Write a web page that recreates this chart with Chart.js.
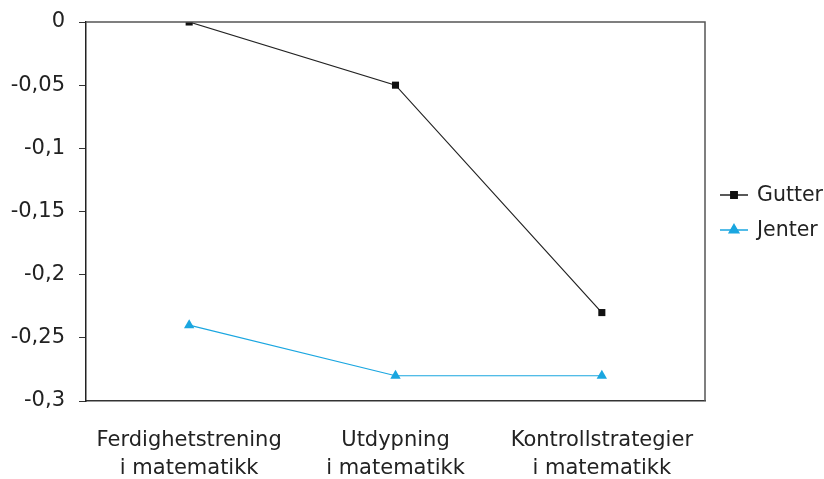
<!DOCTYPE html>
<html>
<head>
<meta charset="utf-8">
<script src="https://cdn.jsdelivr.net/npm/chart.js@4/dist/chart.umd.min.js"></script>
<style>
  html, body { margin: 0; padding: 0; background: #fff; }
  #wrap { width: 824px; height: 479px; }
</style>
</head>
<body>
<div id="wrap"><canvas id="c" width="824" height="479"></canvas></div>
<script>
// Categories (two-line labels) and series values
const categories = [
  ['Ferdighetstrening', 'i matematikk'],
  ['Utdypning', 'i matematikk'],
  ['Kontrollstrategier', 'i matematikk']
];
const gutter = [0, -0.05, -0.23];
const jenter = [-0.24, -0.28, -0.28];
const yTicks = [0, -0.05, -0.1, -0.15, -0.2, -0.25, -0.3];

const FONT = '"DejaVu Sans", "Liberation Sans", sans-serif';
const TEXT = '#222';

// Draws the box around the plot area
const frame = {
  id: 'frame',
  afterDatasetsDraw(chart) {
    const { ctx, chartArea: a } = chart;
    ctx.save();
    ctx.lineWidth = 1.5;
    ctx.strokeStyle = '#555';
    ctx.beginPath();
    ctx.moveTo(a.left, a.top);
    ctx.lineTo(a.right, a.top);
    ctx.lineTo(a.right, a.bottom);
    ctx.stroke();
    ctx.restore();
  }
};

// Legend to the right of the plot: short line with the series marker
const sideLegend = {
  id: 'sideLegend',
  afterDraw(chart) {
    const { ctx, chartArea: a } = chart;
    const x0 = a.right + 15;
    const mid = (a.top + a.bottom) / 2 + 1;
    const gap = 35;
    ctx.save();
    ctx.font = '20.5px ' + FONT;
    ctx.textBaseline = 'middle';
    chart.data.datasets.forEach((ds, i) => {
      const y = mid - gap / 2 + i * gap;
      ctx.strokeStyle = ds.borderColor;
      ctx.lineWidth = 1.5;
      ctx.beginPath();
      ctx.moveTo(x0, y);
      ctx.lineTo(x0 + 28, y);
      ctx.stroke();
      ctx.fillStyle = ds.pointBackgroundColor;
      ctx.strokeStyle = ds.pointBackgroundColor;
      Chart.helpers.drawPoint(ctx, {
        pointStyle: ds.pointStyle, radius: ds.pointRadius - 0.5, rotation: 0, borderWidth: 1
      }, x0 + 14, y);
      ctx.fillStyle = TEXT;
      ctx.fillText(ds.label, x0 + 37, y + 1);
    });
    ctx.restore();
  }
};

new Chart(document.getElementById('c'), {
  type: 'line',
  data: {
    labels: categories,
    datasets: [
      {
        label: 'Gutter',
        data: gutter,
        borderColor: '#222',
        borderWidth: 1.2,
        pointStyle: 'rect',
        pointRadius: 5,
        pointBackgroundColor: '#111',
        pointBorderColor: '#111',
        pointBorderWidth: 0,
        tension: 0
      },
      {
        label: 'Jenter',
        data: jenter,
        borderColor: '#1aa6e0',
        borderWidth: 1.2,
        pointStyle: 'triangle',
        pointRadius: 6,
        pointBackgroundColor: '#1aa6e0',
        pointBorderColor: '#1aa6e0',
        pointBorderWidth: 0,
        tension: 0
      }
    ]
  },
  options: {
    responsive: false,
    animation: false,
    layout: { padding: { left: 0, right: 119, top: 22, bottom: 0 } },
    plugins: {
      legend: { display: false },
      tooltip: { enabled: false }
    },
    scales: {
      x: {
        offset: true,
        afterFit(scale) {
          scale.height = 78;
          scale.paddingLeft = 0;
          scale.paddingRight = 0;
        },
        grid: { display: false, drawTicks: false },
        border: { display: true, color: '#333', width: 1.5 },
        ticks: {
          color: TEXT,
          font: { family: FONT, size: 21, lineHeight: 1.33 },
          padding: 26,
          maxRotation: 0,
          autoSkip: false
        }
      },
      y: {
        min: -0.3,
        max: 0,
        afterFit(scale) {
          scale.width = 86;
          scale.paddingTop = 0;
          scale.paddingBottom = 0;
        },
        afterBuildTicks(scale) { scale.ticks = yTicks.map(v => ({ value: v })); },
        grid: { display: true, drawOnChartArea: false, drawTicks: true, tickLength: 7, color: '#333' },
        border: { display: true, color: '#222', width: 1.5 },
        ticks: {
          color: TEXT,
          font: { family: FONT, size: 21 },
          padding: 14,
          callback: v => String(v).replace('.', ',')
        }
      }
    }
  },
  plugins: [frame, sideLegend]
});
</script>
</body>
</html>
